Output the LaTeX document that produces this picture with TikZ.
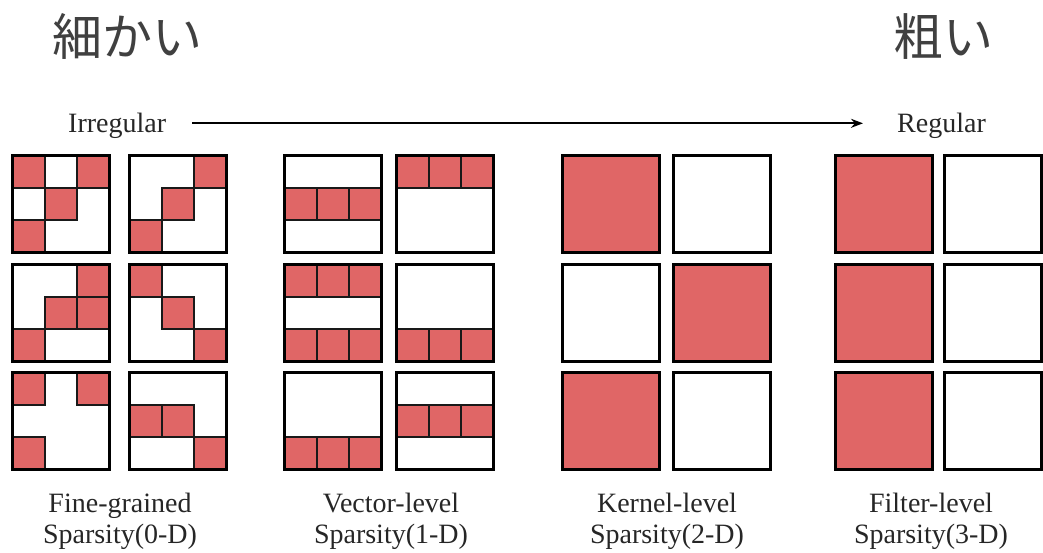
\documentclass[tikz,border=0pt]{standalone}
\usepackage{fontspec}
\setmainfont{Liberation Serif}
\newfontfamily\jpfont{Noto Sans CJK JP}
\usepackage{tikz}
\usetikzlibrary{arrows.meta}
\definecolor{prunecol}{HTML}{E06666}

\begin{document}
\begin{tikzpicture}[x=1pt, y=-1pt,
  kbox/.style={draw=black, line width=3.2pt},
  redcell/.style={fill=prunecol, draw=black!90, line width=1.8pt},
  caption/.style={font=\fontsize{28}{31}\selectfont, text=black!85,
    align=center, anchor=north, inner sep=0pt},
  axislab/.style={font=\fontsize{28}{31}\selectfont, text=black!85,
    anchor=base west, inner sep=0pt},
  heading/.style={font=\jpfont\fontsize{50}{50}\selectfont, text=black!75,
    anchor=base west, inner sep=0pt}]
\useasboundingbox (0,0) rectangle (1043,552);
\def\csz{32.333}

% ------------------------------------------------------------ headings
\node[heading] (finejp) at (52,55) {細かい};
\node[heading] (coarsejp) at (893,55) {粗い};

\node[axislab] (irr) at (68,132) {Irregular};
\node[axislab] (reg) at (897,132) {Regular};
\draw[-{Stealth[length=12pt,width=9pt]}, line width=2pt,
  shorten <=26pt, shorten >=34pt] ([yshift=2pt]irr.east) -- ([yshift=2pt]reg.west);

% ------------------------------------------------ fine-grained (0-D)
% each kernel: top-left corner / pruned cells (col/row)
\foreach \bx/\by/\cells in {
    12.5/155.5/{0/0,2/0,1/1,0/2}, 129.5/155.5/{2/0,1/1,0/2},
    12.5/264.5/{2/0,1/1,2/1,0/2}, 129.5/264.5/{0/0,1/1,2/2},
    12.5/372.5/{0/0,2/0,0/2},     129.5/372.5/{0/1,1/1,2/2}} {
  \foreach \i/\j in \cells
    \draw[redcell] (\bx+\i*\csz, \by+\j*\csz) rectangle ++(\csz,\csz);
  \draw[kbox] (\bx,\by) rectangle ++(97,97);
}

% ------------------------------------------------ vector-level (1-D)
\foreach \bx/\by/\rows in {
    284.5/155.5/{1},   396.5/155.5/{0},
    284.5/264.5/{0,2}, 396.5/264.5/{2},
    284.5/372.5/{2},   396.5/372.5/{1}} {
  \foreach \j in \rows
    \foreach \i in {0,1,2}
      \draw[redcell] (\bx+\i*\csz, \by+\j*\csz) rectangle ++(\csz,\csz);
  \draw[kbox] (\bx,\by) rectangle ++(97,97);
}

% ------------------------------------- kernel-level and filter-level
\foreach \bx/\by/\col in {
    562.5/155.5/prunecol, 673.5/155.5/white,
    562.5/264.5/white,    673.5/264.5/prunecol,
    562.5/372.5/prunecol, 673.5/372.5/white,
    835.5/155.5/prunecol, 944.5/155.5/white,
    835.5/264.5/prunecol, 944.5/264.5/white,
    835.5/372.5/prunecol, 944.5/372.5/white}
  \draw[kbox, fill=\col] (\bx,\by) rectangle ++(97,97);

% ------------------------------------------------------------ captions
\node[caption] (fine) at (120,493) {Fine-grained\\Sparsity(0-D)};
\node[caption] (vec) at (391,493) {Vector-level\\Sparsity(1-D)};
\node[caption] (kern) at (667,493) {Kernel-level\\Sparsity(2-D)};
\node[caption] (filt) at (931,493) {Filter-level\\Sparsity(3-D)};

\end{tikzpicture}
\end{document}
